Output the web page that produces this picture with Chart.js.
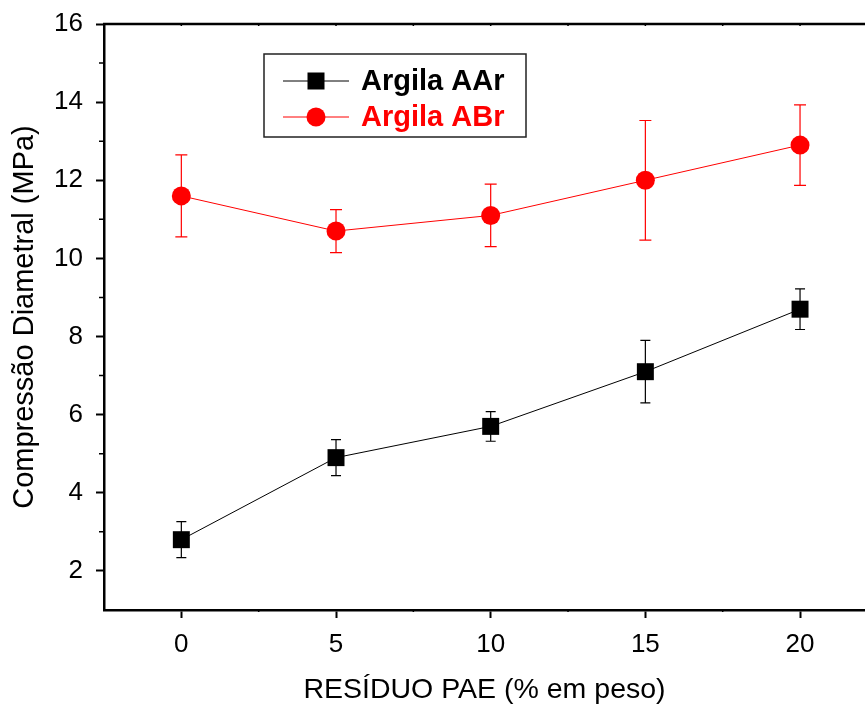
<!DOCTYPE html>
<html>
<head>
<meta charset="utf-8">
<script src="https://cdn.jsdelivr.net/npm/chart.js@4.4.0/dist/chart.umd.min.js"></script>
<style>
  html, body { margin: 0; padding: 0; background: #fff; overflow: hidden; }
  #wrap { width: 865px; height: 707px; }
</style>
</head>
<body>
<div id="wrap"><canvas id="myChart" width="865" height="707"></canvas></div>
<script>
const xValues = [0, 5, 10, 15, 20];
const aarValues = [2.8, 4.9, 5.7, 7.1, 8.7];
const aarErrors = [0.46, 0.46, 0.38, 0.8, 0.52];
const abrValues = [11.6, 10.7, 11.1, 12.0, 12.9];
const abrErrors = [1.05, 0.55, 0.8, 1.53, 1.03];
const xTicks = [0, 5, 10, 15, 20];
const xMinorTicks = [2.5, 7.5, 12.5, 17.5];
const yTicks = [2, 4, 6, 8, 10, 12, 14, 16];
const yMinorTicks = [3, 5, 7, 9, 11, 13, 15];

const FONT = "Arial, 'Liberation Sans', sans-serif";

const toPoints = (vals) => xValues.map((x, i) => ({x: x, y: vals[i]}));

// error bars behind the markers
const errorBars = {
    id: "errorBars",
    beforeDatasetsDraw (chart)
    {
        const ctx = chart.ctx;
        const xs = chart.scales.x;
        const ys = chart.scales.y;
        chart.data.datasets.forEach(ds => {
            ctx.save();
            ctx.strokeStyle = ds.borderColor;
            ctx.lineWidth = 1.2;
            ds.data.forEach((p, i) => {
                const px = xs.getPixelForValue(p.x);
                const top = ys.getPixelForValue(p.y + ds.errors[i]);
                const bot = ys.getPixelForValue(p.y - ds.errors[i]);
                const cap = ds.capWidth;
                ctx.beginPath();
                ctx.moveTo(px, top); ctx.lineTo(px, bot);
                ctx.moveTo(px - cap, top); ctx.lineTo(px + cap, top);
                ctx.moveTo(px - cap, bot); ctx.lineTo(px + cap, bot);
                ctx.stroke();
            });
            ctx.restore();
        });
    }
};

// top frame, minor ticks and legend box
const frameAndLegend = {
    id: "frameAndLegend",
    afterDraw (chart)
    {
        const ctx = chart.ctx;
        const area = chart.chartArea;
        const xs = chart.scales.x;
        const ys = chart.scales.y;
        ctx.save();
        ctx.strokeStyle = "#000";
        ctx.lineWidth = 2.5;
        ctx.beginPath();
        ctx.moveTo(area.left - 1, area.top);
        ctx.lineTo(area.right, area.top);
        ctx.stroke();

        ctx.lineWidth = 1.5;
        ctx.beginPath();
        yMinorTicks.forEach(v => {
            const py = ys.getPixelForValue(v);
            ctx.moveTo(area.left, py); ctx.lineTo(area.left - 5, py);
        });
        xMinorTicks.forEach(v => {
            const px = xs.getPixelForValue(v);
            ctx.moveTo(px, area.bottom); ctx.lineTo(px, area.bottom + 2);
        });
        xTicks.concat(xMinorTicks).forEach(v => {
            const px = xs.getPixelForValue(v);
            ctx.moveTo(px, area.top); ctx.lineTo(px, area.top + 2);
        });
        ctx.stroke();

        // legend
        ctx.strokeStyle = "#222";
        ctx.lineWidth = 1.5;
        ctx.strokeRect(264, 54, 262, 83);
        const rows = [81, 117];
        chart.data.datasets.forEach((ds, i) => {
            const y = rows[i];
            ctx.strokeStyle = ds.borderColor;
            ctx.lineWidth = 1;
            ctx.beginPath();
            ctx.moveTo(283, y); ctx.lineTo(349, y);
            ctx.stroke();
            ctx.fillStyle = ds.backgroundColor;
            if (ds.pointStyle === "rect")
            {
                ctx.fillRect(316 - 8.5, y - 8.5, 17, 17);
            }
            else
            {
                ctx.beginPath();
                ctx.arc(316, y, 9.5, 0, Math.PI * 2);
                ctx.fill();
            }
            ctx.fillStyle = ds.borderColor;
            ctx.font = "bold 29px " + FONT;
            ctx.textBaseline = "middle";
            ctx.textAlign = "left";
            ctx.fillText(ds.label, 361, y + 1);
        });
        ctx.restore();
    }
};

const ctx = document.getElementById("myChart");

new Chart(ctx, {
    type: "line",
    data: {
        datasets: [
            {
                label: "Argila AAr",
                data: toPoints(aarValues),
                errors: aarErrors,
                capWidth: 5,
                borderColor: "#000",
                backgroundColor: "#000",
                borderWidth: 1,
                pointStyle: "rect",
                pointRadius: 12,
                pointBorderWidth: 0,
                pointHoverRadius: 12
            },
            {
                label: "Argila ABr",
                data: toPoints(abrValues),
                errors: abrErrors,
                capWidth: 6,
                borderColor: "#ff0000",
                backgroundColor: "#ff0000",
                borderWidth: 1,
                pointStyle: "circle",
                pointRadius: 9.5,
                pointBorderWidth: 0,
                pointHoverRadius: 9.5
            }
        ]
    },
    options: {
        responsive: false,
        animation: false,
        layout: { autoPadding: false, padding: { top: 24, right: 0, left: 0, bottom: 0 } },
        plugins: {
            legend: { display: false },
            tooltip: { enabled: false }
        },
        scales: {
            x: {
                type: "linear",
                min: -2.5,
                max: 22.1,
                afterFit: (scale) => {
                    scale.height = 97;
                    scale.paddingLeft = 0;
                    scale.paddingRight = 0;
                },
                afterBuildTicks: (scale) => { scale.ticks = xTicks.map(v => ({value: v})); },
                grid: { drawOnChartArea: false, drawTicks: true, tickLength: 8, tickWidth: 2, tickColor: "#000" },
                border: { display: true, color: "#000", width: 2.5 },
                ticks: { color: "#000", font: { family: FONT, size: 26 }, padding: 11, maxRotation: 0 },
                title: {
                    display: true,
                    text: "RESÍDUO PAE (% em peso)",
                    color: "#000",
                    font: { family: FONT, size: 28.5, lineHeight: 1.2 },
                    padding: { top: 0, bottom: 0 }
                }
            },
            y: {
                min: 1,
                max: 16,
                afterFit: (scale) => {
                    scale.width = 104;
                    scale.paddingTop = 0;
                    scale.paddingBottom = 0;
                },
                afterBuildTicks: (scale) => { scale.ticks = yTicks.map(v => ({value: v})); },
                grid: { drawOnChartArea: false, drawTicks: true, tickLength: 8, tickWidth: 2, tickColor: "#000" },
                border: { display: true, color: "#000", width: 2.5 },
                ticks: { color: "#000", font: { family: FONT, size: 26 }, padding: 13 },
                title: {
                    display: true,
                    text: "Compressão Diametral (MPa)",
                    color: "#000",
                    font: { family: FONT, size: 29, lineHeight: 1.2 },
                    padding: { top: 8, bottom: 0 }
                }
            }
        }
    },
    plugins: [errorBars, frameAndLegend]
});
</script>
</body>
</html>
